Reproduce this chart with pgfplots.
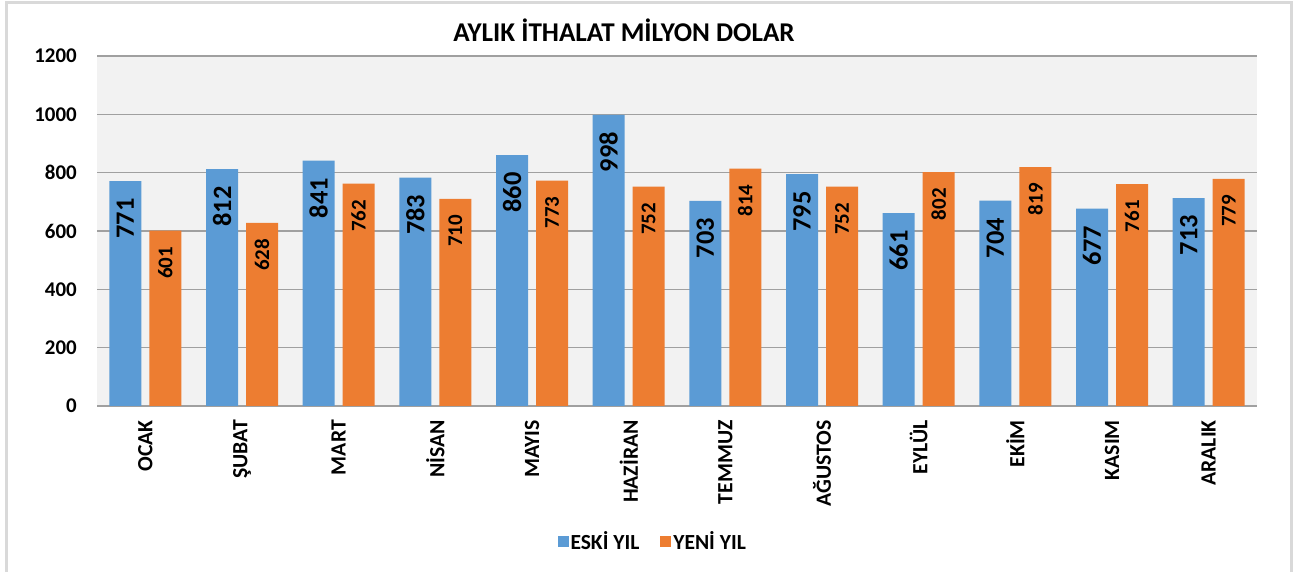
\documentclass[border=0pt]{standalone}
\usepackage{pgfplots}
\pgfplotsset{compat=1.18}
\usepackage{fontspec}
\setmainfont{Carlito}
\definecolor{cblue}{HTML}{5B9BD5}
\definecolor{corange}{HTML}{ED7D31}
\definecolor{cbg}{HTML}{F2F2F2}
\definecolor{cgrid}{HTML}{A0A0A0}
\definecolor{cframe}{HTML}{D9D9D9}
\begin{document}
\begin{tikzpicture}[x=1bp,y=1bp]
\useasboundingbox (0,0) rectangle (1301,572);
\draw[cframe, line width=3bp] (6.5,-10) rectangle (1291.5,569.5);
\node[anchor=base, font=\fontsize{27.2}{27.2}\selectfont\bfseries] at (624,530) {AYLIK İTHALAT MİLYON DOLAR};
\begin{axis}[
  at={(97bp,166bp)}, anchor=south west,
  scale only axis, width=1160bp, height=350bp,
  ybar=8bp, bar width=32bp,
  xmin=-0.5, xmax=11.5, ymin=0, ymax=1200,
  xtick={0,...,11},
  xticklabels={OCAK, ŞUBAT, MART, NİSAN, MAYIS, HAZİRAN, TEMMUZ, AĞUSTOS, EYLÜL, EKİM, KASIM, ARALIK},
  ytick={0,200,...,1200},
  major tick length=0pt,
  axis line style={draw=none},
  axis background/.style={fill=cbg},
  ymajorgrids, grid style={cgrid, line width=1.6bp},
  /pgf/number format/assume math mode=true,
  /pgf/number format/1000 sep={},
  yticklabel style={font=\fontsize{21}{21}\selectfont\bfseries, anchor=east, inner sep=0pt, xshift=-20bp},
  xticklabel style={font=\fontsize{21.8}{21.8}\selectfont\bfseries, rotate=90, anchor=east, inner xsep=14bp, inner ysep=0pt},
  legend style={at={(axis description cs:0.479,-0.386)}, anchor=center, draw=none, fill=none,
    font=\fontsize{21.6}{21.6}\selectfont\bfseries, legend columns=2,
    /tikz/every even column/.append style={column sep=19bp}},
  legend image code/.code={\fill[#1] (-3bp,-5.5bp) rectangle (8bp,5.5bp);},
]
\addplot[fill=cblue, draw=none,
  nodes near coords,
  every node near coord/.append style={font=\fontsize{26.5}{26.5}\selectfont\bfseries, rotate=90, anchor=east, inner xsep=17bp, inner ysep=0pt, text=black}]
  coordinates {(0,771) (1,812) (2,841) (3,783) (4,860) (5,998) (6,703) (7,795) (8,661) (9,704) (10,677) (11,713)};
\addplot[fill=corange, draw=none,
  nodes near coords,
  every node near coord/.append style={font=\fontsize{21}{21}\selectfont\bfseries, rotate=90, anchor=east, inner xsep=16bp, inner ysep=0pt, text=black}]
  coordinates {(0,601) (1,628) (2,762) (3,710) (4,773) (5,752) (6,814) (7,752) (8,802) (9,819) (10,761) (11,779)};
\legend{ESKİ YIL, YENİ YIL}
\end{axis}
\end{tikzpicture}
\end{document}
